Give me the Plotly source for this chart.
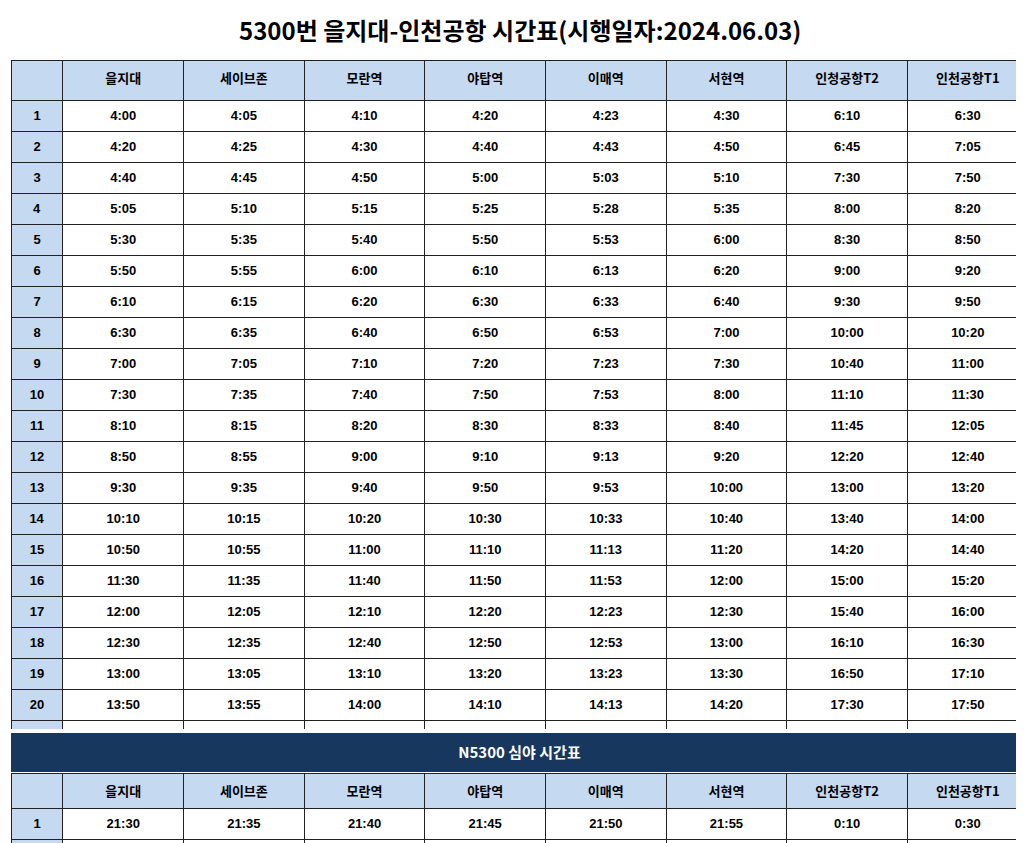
import plotly.graph_objects as go

H = 843

stations = ['을지대', '세이브존', '모란역', '야탑역', '이매역', '서현역', '인청공항T2', '인천공항T1']
night_stations = ['을지대', '세이브존', '모란역', '야탑역', '이매역', '서현역', '인천공항T2', '인천공항T1']

day_rows = [
    ['4:00', '4:05', '4:10', '4:20', '4:23', '4:30', '6:10', '6:30'],
    ['4:20', '4:25', '4:30', '4:40', '4:43', '4:50', '6:45', '7:05'],
    ['4:40', '4:45', '4:50', '5:00', '5:03', '5:10', '7:30', '7:50'],
    ['5:05', '5:10', '5:15', '5:25', '5:28', '5:35', '8:00', '8:20'],
    ['5:30', '5:35', '5:40', '5:50', '5:53', '6:00', '8:30', '8:50'],
    ['5:50', '5:55', '6:00', '6:10', '6:13', '6:20', '9:00', '9:20'],
    ['6:10', '6:15', '6:20', '6:30', '6:33', '6:40', '9:30', '9:50'],
    ['6:30', '6:35', '6:40', '6:50', '6:53', '7:00', '10:00', '10:20'],
    ['7:00', '7:05', '7:10', '7:20', '7:23', '7:30', '10:40', '11:00'],
    ['7:30', '7:35', '7:40', '7:50', '7:53', '8:00', '11:10', '11:30'],
    ['8:10', '8:15', '8:20', '8:30', '8:33', '8:40', '11:45', '12:05'],
    ['8:50', '8:55', '9:00', '9:10', '9:13', '9:20', '12:20', '12:40'],
    ['9:30', '9:35', '9:40', '9:50', '9:53', '10:00', '13:00', '13:20'],
    ['10:10', '10:15', '10:20', '10:30', '10:33', '10:40', '13:40', '14:00'],
    ['10:50', '10:55', '11:00', '11:10', '11:13', '11:20', '14:20', '14:40'],
    ['11:30', '11:35', '11:40', '11:50', '11:53', '12:00', '15:00', '15:20'],
    ['12:00', '12:05', '12:10', '12:20', '12:23', '12:30', '15:40', '16:00'],
    ['12:30', '12:35', '12:40', '12:50', '12:53', '13:00', '16:10', '16:30'],
    ['13:00', '13:05', '13:10', '13:20', '13:23', '13:30', '16:50', '17:10'],
    ['13:50', '13:55', '14:00', '14:10', '14:13', '14:20', '17:30', '17:50'],
    ['14:30', '14:35', '14:40', '14:50', '14:53', '15:00', '18:00', '18:20'],
    ['15:00', '15:05', '15:10', '15:20', '15:23', '15:30', '18:30', '18:50'],
    ['15:30', '15:35', '15:40', '15:50', '15:53', '16:00', '19:00', '19:20'],
    ['16:00', '16:05', '16:10', '16:20', '16:23', '16:30', '19:30', '19:50'],
    ['16:30', '16:35', '16:40', '16:50', '16:53', '17:00', '20:00', '20:20'],
    ['17:10', '17:15', '17:20', '17:30', '17:33', '17:40', '20:30', '20:50'],
    ['18:00', '18:05', '18:10', '18:20', '18:23', '18:30', '21:00', '21:20'],
    ['19:00', '19:05', '19:10', '19:20', '19:23', '19:30', '21:40', '22:00'],
]

night_rows = [
    ['21:30', '21:35', '21:40', '21:45', '21:50', '21:55', '0:10', '0:30'],
    ['2:00', '2:05', '2:10', '2:15', '2:20', '2:25', '3:50', '4:10'],
]

HEAD_BLUE = '#c5d9f1'
DARK = '#17375e'
FONT = 'Noto Sans CJK KR'
CELL_FONT = 'Liberation Sans'


def bold(xs):
    return ['<b>%s</b>' % x for x in xs]


def ydom(top, bottom):
    return [1 - bottom / H, 1 - top / H]


def make_table(names, rows, top, bottom, head_h, cell_h):
    cols = [bold([str(i + 1) for i in range(len(rows))])]
    for j in range(len(names)):
        cols.append(bold([r[j] for r in rows]))
    n = len(rows)
    return go.Table(
        domain=dict(x=[0.003, 0.997], y=ydom(top, bottom)),
        columnwidth=[52] + [121] * len(names),
        header=dict(
            values=[''] + bold(names),
            fill_color=HEAD_BLUE,
            line_color='#222222',
            align='center',
            height=head_h,
            font=dict(family=FONT, size=13, color='black'),
        ),
        cells=dict(
            values=cols,
            fill_color=[[HEAD_BLUE] * n] + [['white'] * n] * len(names),
            line_color='#222222',
            align='center',
            height=cell_h,
            font=dict(family=CELL_FONT, size=13, color='black'),
        ),
    )


fig = go.Figure()
fig.add_trace(make_table(stations, day_rows, 52, 721, 40, 22))

# dark band for the night timetable
fig.add_trace(go.Table(
    domain=dict(x=[0.003, 0.997], y=ydom(725, 765)),
    header=dict(
        values=['<b>N5300 심야 시간표</b>'],
        fill_color=DARK,
        line_color=DARK,
        align='center',
        height=40,
        font=dict(family=FONT, size=15, color='white'),
    ),
    cells=dict(values=[[]], height=0),
))

fig.add_trace(make_table(night_stations, night_rows, 765, 843, 30, 22))

fig.add_annotation(
    text='<b>5300번 을지대-인천공항 시간표(시행일자:2024.06.03)</b>',
    x=0.5, y=1, xref='paper', yref='paper', yanchor='top', yshift=-2,
    showarrow=False, font=dict(family=FONT, size=24, color='black'),
)

fig.update_layout(
    width=1024, height=H,
    margin=dict(l=0, r=0, t=0, b=0),
    paper_bgcolor='white',
)

fig.write_html('out.html')
